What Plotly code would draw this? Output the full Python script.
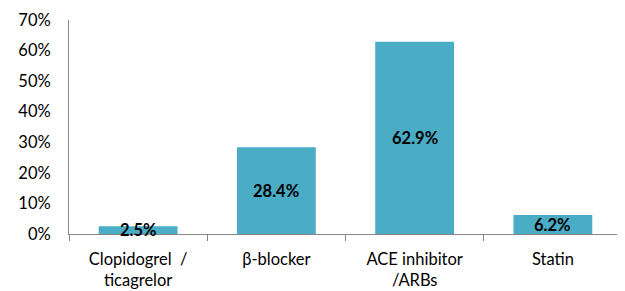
import plotly.graph_objects as go

categories = ["Clopidogrel \u00a0/<br>ticagrelor", "β-blocker", "ACE inhibitor<br>/ARBs", "Statin"]
values = [2.5, 28.4, 62.9, 6.2]
value_labels = ["2.5%", "28.4%", "62.9%", "6.2%"]
y_ticks = [0, 10, 20, 30, 40, 50, 60, 70]
y_tick_labels = ["0%", "10%", "20%", "30%", "40%", "50%", "60%", "70%"]

FONT = "Lato, Calibri, Carlito, sans-serif"

fig = go.Figure()
fig.add_trace(go.Bar(
    x=categories, y=values,
    marker=dict(color="#4BACC6", line=dict(width=0)),
    hoverinfo="skip",
))

for c, v, t in zip(categories, values, value_labels):
    fig.add_annotation(x=c, y=v / 2, text="<b>" + t + "</b>", showarrow=False,
                       font=dict(family=FONT, size=16.5, color="black"))

# page body has an 8px margin, so the figure is sized/offset to compensate
fig.update_layout(
    width=617, height=283,
    margin=dict(l=61, r=3, t=12, b=57),
    paper_bgcolor="white", plot_bgcolor="white",
    bargap=0.43,
    showlegend=False,
    font=dict(family=FONT, size=16, color="black"),
)
fig.update_xaxes(
    type="category",
    showline=True, linecolor="#868686", linewidth=1,
    ticks="outside", tickson="boundaries", ticklen=6, tickcolor="#868686",
    showgrid=False,
    tickfont=dict(family=FONT, size=16.5),
    ticklabelstandoff=10,
    automargin=False,
)
fig.update_yaxes(
    range=[0, 70],
    tickvals=y_ticks, ticktext=y_tick_labels,
    showline=True, linecolor="#868686", linewidth=1,
    showgrid=False, zeroline=False, ticks="",
    tickfont=dict(family=FONT, size=16.5),
    ticklabelstandoff=14,
    automargin=False,
)

fig.write_html("out.html")
